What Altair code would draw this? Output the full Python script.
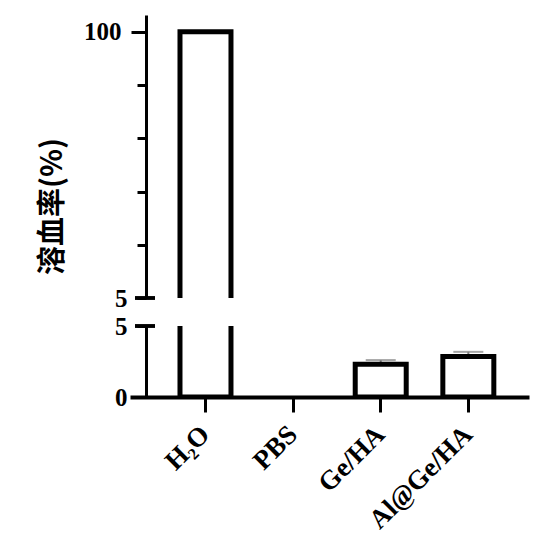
import altair as alt
import pandas as pd

groups = ["H₂O", "PBS", "Ge/HA", "Al@Ge/HA"]
rates = [100, 0, 2.3, 2.85]
errors = [0, 0, 0.3, 0.33]

top_ticks = [5, 24, 43, 62, 81, 100]
bottom_ticks = [0, 5]

df = pd.DataFrame({"group": groups, "rate": rates, "err": errors})
df["hi"] = df["rate"] + df["err"]

serif = "Liberation Serif"
cjk = "Noto Sans CJK SC"

xscale = alt.Scale(domain=groups, paddingInner=0.418, paddingOuter=0.486, align=0.587)

def yaxis(values, title, tick_size, label_expr=None):
    kw = dict(
        values=values,
        title=title,
        titleFont=cjk,
        titleFontSize=29,
        titleFontWeight="bold",
        titleColor="black",
        titlePadding=19,
        minExtent=60,
        maxExtent=60,
        offset=-16,
        tickSize=tick_size,
        tickWidth=3,
        tickColor="black",
        domainWidth=3,
        domainColor="black",
        labelFont=serif,
        labelFontSize=25,
        labelFontWeight="bold",
        labelColor="black",
        labelPadding=10,
        grid=False,
    )
    if label_expr:
        kw["labelExpr"] = label_expr
    return alt.Axis(**kw)

base = alt.Chart(df)
bars_src = base.transform_filter("datum.rate > 0")

# ---------- top segment (5 .. 106) ----------
top_axis = yaxis(
    top_ticks,
    "溶血率(%)",
    {"condition": {"test": "datum.value == 100", "value": 15}, "value": 9},
    "datum.value == 100 || datum.value == 5 ? datum.label : ''",
)
top_axis["titleY"] = 191

top_bars = bars_src.mark_bar(fill="white", stroke="black", strokeWidth=5, clip=True).encode(
    x=alt.X("group:N", sort=groups, scale=xscale, axis=None),
    y=alt.Y("rate:Q", scale=alt.Scale(domain=[5, 106], nice=False, zero=False), axis=top_axis),
    y2=alt.datum(0),
)
top_break = alt.Chart(df).mark_rule(color="black", strokeWidth=3).encode(
    y=alt.datum(5), x=alt.value(5), x2=alt.value(25)
)
top = alt.layer(top_bars, top_break).properties(width=399, height=283)

# ---------- bottom segment (0 .. 5) ----------
bottom_axis = yaxis(bottom_ticks, "\u3000", 9)
xaxis = alt.Axis(
    title=None,
    labelAngle=-45,
    labelAlign="right",
    labelBaseline="middle",
    labelFont=serif,
    labelFontSize=27,
    labelFontWeight="bold",
    labelColor="black",
    labelPadding=18,
    tickSize=15,
    tickWidth=3,
    tickColor="black",
    domainWidth=4,
    domainColor="black",
)
yb = alt.Scale(domain=[0, 5], nice=False)

err = base.transform_filter("datum.err > 0")
err_rule = err.mark_rule(color="#7f7f7f", strokeWidth=2).encode(
    x=alt.X("group:N", sort=groups, scale=xscale, axis=xaxis),
    y=alt.Y("rate:Q", scale=yb, axis=bottom_axis),
    y2="hi:Q",
)
err_cap = err.mark_tick(color="#7f7f7f", thickness=2, size=30, orient="horizontal").encode(
    x=alt.X("group:N", sort=groups, scale=xscale),
    y=alt.Y("hi:Q", scale=yb),
)
bottom_bars = bars_src.mark_bar(fill="white", stroke="black", strokeWidth=5, clip=True).encode(
    x=alt.X("group:N", sort=groups, scale=xscale, axis=xaxis),
    y=alt.Y("rate:Q", scale=yb, axis=bottom_axis),
    y2=alt.datum(0),
)
bottom_break = alt.Chart(df).mark_rule(color="black", strokeWidth=3).encode(
    y=alt.datum(5), x=alt.value(5), x2=alt.value(25)
)
bottom = alt.layer(err_rule, err_cap, bottom_bars, bottom_break).properties(width=399, height=71)

chart = (
    alt.vconcat(top, bottom, spacing=28, bounds="flush")
    .resolve_scale(y="independent")
    .properties(padding={"left": 30, "top": 7, "right": 5, "bottom": 5}, background="white")
    .configure_view(stroke=None)
)

chart.save("out.html", embed_options={"renderer": "svg", "actions": False})
